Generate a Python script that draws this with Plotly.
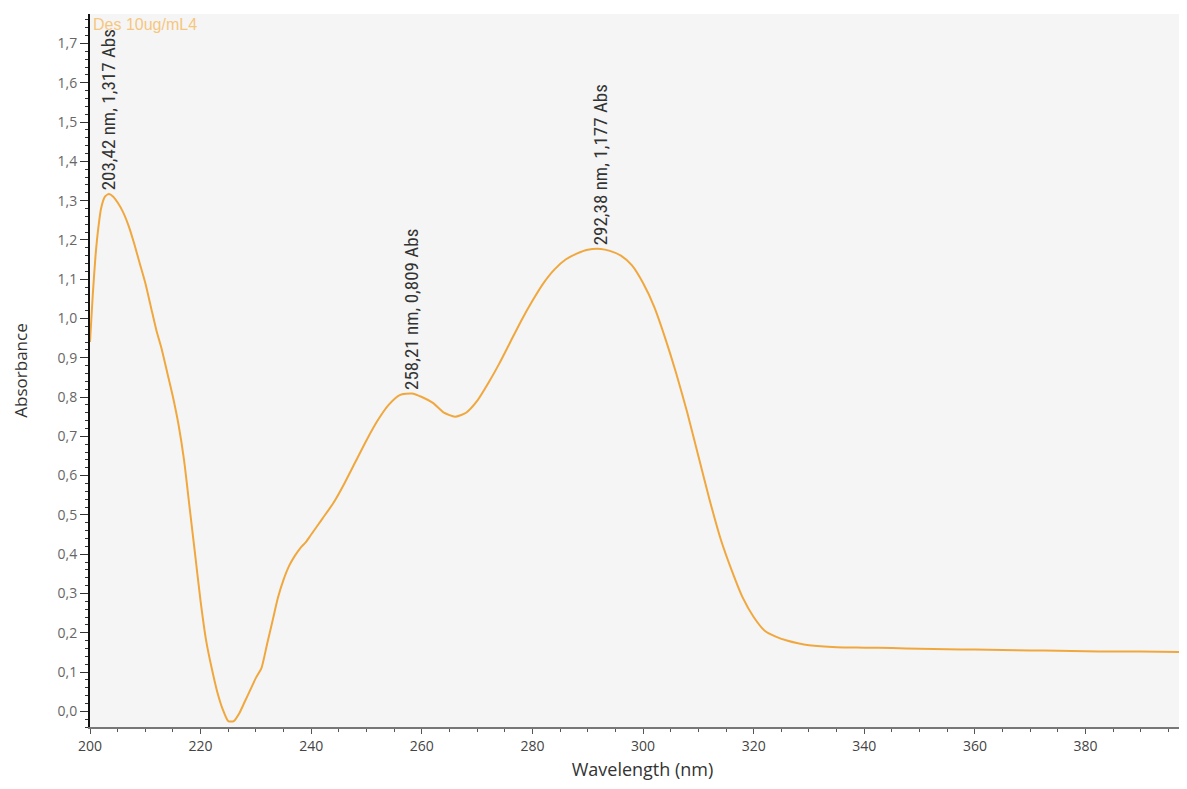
import plotly.graph_objects as go

wavelength = [200, 200.5, 201, 201.5, 202, 202.7, 203.42, 204.2, 205, 206, 207, 208, 209, 210, 211, 212, 213, 214, 215, 216, 217, 218, 219, 220, 221, 222, 223, 224, 225, 226, 227, 228, 229, 230, 231, 232, 233, 234, 235, 236, 237, 238, 239, 240, 242, 244, 246, 248, 250, 252, 254, 256, 258.21, 260, 262, 264, 266, 268, 270, 272, 274, 276, 278, 280, 282, 284, 286, 288, 290, 292.38, 294, 296, 298, 300, 302, 304, 306, 308, 310, 312, 314, 316, 318, 320, 322, 324, 326, 328, 330, 335, 340, 345, 350, 355, 360, 365, 370, 375, 380, 385, 390, 399]
absorbance = [0.94, 1.06, 1.16, 1.23, 1.28, 1.31, 1.317, 1.31, 1.295, 1.27, 1.235, 1.19, 1.14, 1.09, 1.03, 0.97, 0.92, 0.86, 0.80, 0.73, 0.64, 0.52, 0.40, 0.28, 0.18, 0.11, 0.05, 0.005, -0.025, -0.025, -0.005, 0.025, 0.055, 0.085, 0.11, 0.17, 0.23, 0.29, 0.335, 0.37, 0.395, 0.415, 0.43, 0.45, 0.49, 0.53, 0.58, 0.635, 0.69, 0.74, 0.78, 0.805, 0.809, 0.80, 0.785, 0.76, 0.75, 0.76, 0.79, 0.835, 0.885, 0.94, 0.995, 1.045, 1.09, 1.125, 1.15, 1.165, 1.175, 1.177, 1.172, 1.16, 1.135, 1.09, 1.03, 0.95, 0.86, 0.76, 0.65, 0.54, 0.44, 0.36, 0.29, 0.24, 0.205, 0.19, 0.18, 0.173, 0.168, 0.163, 0.162, 0.161, 0.159, 0.158, 0.157, 0.156, 0.155, 0.154, 0.153, 0.152, 0.152, 0.151]

peak_x = [203.42, 258.21, 292.38]
peak_y = [1.317, 0.809, 1.177]
peak_labels = ["203,42 nm, 1,317 Abs", "258,21 nm, 0,809 Abs", "292,38 nm, 1,177 Abs"]

x_ticks = [200, 220, 240, 260, 280, 300, 320, 340, 360, 380]
y_ticks = [0.0, 0.1, 0.2, 0.3, 0.4, 0.5, 0.6, 0.7, 0.8, 0.9, 1.0, 1.1, 1.2, 1.3, 1.4, 1.5, 1.6, 1.7]

line_color = "#f0a83e"
narrow = "Liberation Sans Narrow, Arial Narrow, Roboto Condensed, Liberation Sans, sans-serif"
ui = "Open Sans, Noto Sans, sans-serif"

fig = go.Figure()
fig.add_trace(go.Scatter(x=wavelength, y=absorbance, mode="lines",
                         line=dict(color=line_color, width=2, shape="spline", smoothing=0.6),
                         name="Des 10ug/mL4", showlegend=False))

for px, py, lab in zip(peak_x, peak_y, peak_labels):
    fig.add_annotation(x=px, y=py, text=lab, textangle=-90, showarrow=False,
                       xanchor="center", yanchor="bottom", yshift=2,
                       font=dict(family=narrow, size=19, color="#333333"))

fig.add_annotation(xref="paper", yref="paper", x=0.001, y=1.0, text="Des 10ug/mL4",
                   showarrow=False, xanchor="left", yanchor="top",
                   font=dict(family="Liberation Sans, Arial, sans-serif", size=16, color="#f5c77e"))

# page body has an 8px margin; compensate so the plot lands where the reference is
fig.update_layout(
    width=1187, height=781,
    margin=dict(l=82, r=0, t=6, b=62),
    paper_bgcolor="white", plot_bgcolor="#f5f5f5",
    separators=", ",
    font=dict(family=ui, size=14, color="#555555"),
    xaxis=dict(range=[200, 399.8], tickvals=x_ticks, showgrid=False, zeroline=False,
               showline=True, linecolor="#777777", linewidth=2,
               ticks="outside", ticklen=5, tickcolor="#555555",
               tickfont=dict(family=ui, size=14, color="#444444"),
               minor=dict(dtick=5, ticks="outside", ticklen=3, tickcolor="#555555"),
               title=dict(text="Wavelength (nm)", standoff=10,
                          font=dict(family=ui, size=18, color="#333333"))),
    yaxis=dict(range=[-0.04, 1.775], tickvals=y_ticks, tickformat=".1f", showgrid=False,
               zeroline=False, showline=True, linecolor="#111111", linewidth=2,
               ticks="outside", ticklen=8, tickcolor="#333333",
               tickfont=dict(family=ui, size=14, color="#666666"),
               minor=dict(dtick=0.02, ticks="outside", ticklen=3, tickcolor="#333333"),
               title=dict(text="Absorbance", standoff=26,
                          font=dict(family=ui, size=17, color="#333333"))),
)

fig.write_html("out.html")
